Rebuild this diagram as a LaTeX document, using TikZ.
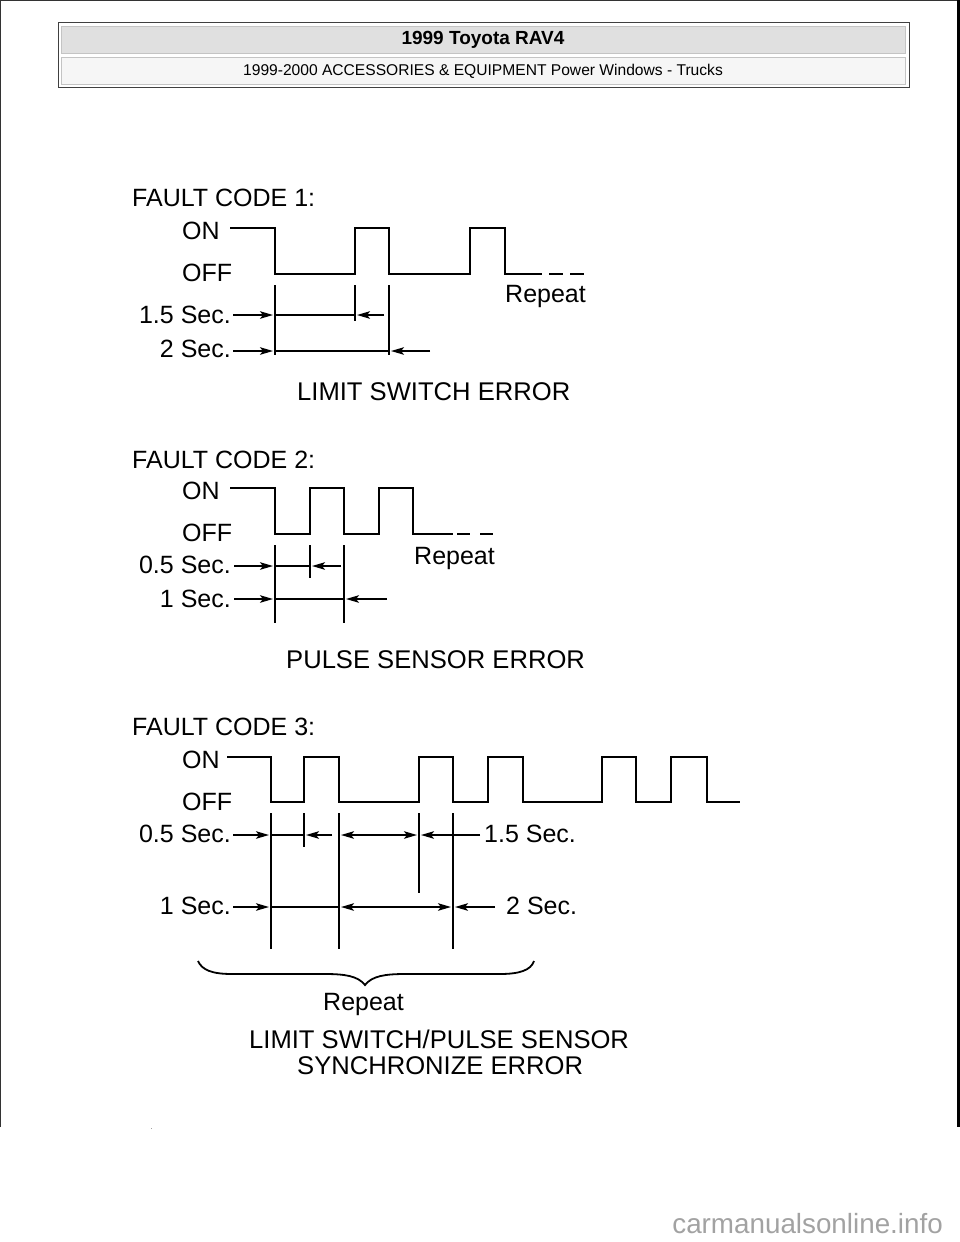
\documentclass[tikz,border=0pt]{standalone}
\usepackage{fontspec}
\setmainfont{Liberation Sans}
\usetikzlibrary{arrows.meta}
\definecolor{barhead}{HTML}{E0E0E0}
\definecolor{barsub}{HTML}{F6F6F6}
\definecolor{barline}{HTML}{C4C4C4}
\definecolor{markgray}{HTML}{A2A2A2}
\tikzset{
  lbl/.style={inner sep=0pt, text=black, font=\fontsize{25}{28}\selectfont},
  lblleft/.style={lbl, anchor=base west},
  lblright/.style={lbl, anchor=base east},
  lblname/.style={lblleft, font=\fontsize{25.6}{28}\selectfont},
  wave/.style={line width=2.4pt, line join=miter},
  wavedash/.style={line width=1.3pt},
  tick/.style={line width=1.7pt},
  span/.style={line width=1.7pt},
  lead/.style={line width=1.8pt, -{Stealth[length=13pt,width=7.5pt,inset=3pt]}},
  both/.style={line width=1.8pt, {Stealth[length=13pt,width=7.5pt,inset=3pt]}-{Stealth[length=13pt,width=7.5pt,inset=3pt]}}
}
\begin{document}
\begin{tikzpicture}[x=1pt,y=-1pt]
          \useasboundingbox (0,0) rectangle (960,1242);
          % Draw page frame
          \draw[line width=1.5pt, black!80] (0.7,1127) -- (0.7,0.7) -- (960,0.7);
          \fill[black] (957,0) rectangle (960,1127);
          \fill[markgray] (150.5,1127.5) rectangle (151.5,1128.5);
          % Draw header
          \draw[line width=1pt, black!75, fill=white] (58,22) rectangle (909,87);
          \draw[line width=1pt, barline, fill=barhead] (61,26) rectangle (905,53);
          \draw[line width=1pt, barline, fill=barsub] (61,57) rectangle (905,84);
          \node[inner sep=0pt, font=\fontsize{19}{21}\selectfont\bfseries] (title) at (483,40) {1999 Toyota RAV4};
          \node[inner sep=0pt, font=\fontsize{15.6}{18}\selectfont] (subtitle) at (483,71) {1999-2000 ACCESSORIES \& EQUIPMENT Power Windows - Trucks};
          % Draw fault code 1
          \node[lblleft] (faultA) at (132,206) {FAULT CODE 1:};
          \node[lblleft] (onA) at (182,239) {ON};
          \node[lblleft] (offA) at (182,281) {OFF};
          \draw[wave] (230,228) -- (275,228) -- (275,274) -- (355,274) -- (355,228) -- (389,228) -- (389,274) -- (470,274) -- (470,228) -- (505,228) -- (505,274) -- (528,274);
          \draw[wavedash, dash pattern=on 14pt off 7pt] (528,274) -- (586,274);
          \node[lblleft] (repeatA) at (505,302) {Repeat};
          \draw[tick] (275,285) -- (275,355);
          \draw[tick] (355,285) -- (355,321);
          \draw[tick] (389,285) -- (389,355);
          \node[lblright] (halfA) at (231,323) {1.5 Sec.};
          \draw[lead] (233,315) -- (273,315);
          \draw[span] (275,315) -- (355,315);
          \draw[lead] (384,315) -- (357,315);
          \node[lblright] (fullA) at (231,357) {2 Sec.};
          \draw[lead] (233,351) -- (273,351);
          \draw[span] (275,351) -- (389,351);
          \draw[lead] (430,351) -- (391,351);
          \node[lblname] (nameA) at (297,400) {LIMIT SWITCH ERROR};
          % Draw fault code 2
          \node[lblleft] (faultB) at (132,468) {FAULT CODE 2:};
          \node[lblleft] (onB) at (182,499) {ON};
          \node[lblleft] (offB) at (182,541) {OFF};
          \draw[wave] (230,488) -- (275,488) -- (275,534) -- (310,534) -- (310,488) -- (344,488) -- (344,534) -- (379,534) -- (379,488) -- (413,488) -- (413,534) -- (440,534);
          \draw[wavedash, dash pattern=on 13pt off 4pt on 13pt off 10pt] (440,534) -- (493,534);
          \node[lblleft] (repeatB) at (414,564) {Repeat};
          \draw[tick] (275,545) -- (275,623);
          \draw[tick] (310,545) -- (310,578);
          \draw[tick] (344,545) -- (344,623);
          \node[lblright] (halfB) at (231,573) {0.5 Sec.};
          \draw[lead] (234,566) -- (273,566);
          \draw[span] (275,566) -- (310,566);
          \draw[lead] (341,566) -- (312,566);
          \node[lblright] (fullB) at (231,607) {1 Sec.};
          \draw[lead] (234,599) -- (273,599);
          \draw[span] (275,599) -- (344,599);
          \draw[lead] (387,599) -- (346,599);
          \node[lblname] (nameB) at (286,668) {PULSE SENSOR ERROR};
          % Draw fault code 3
          \node[lblleft] (faultC) at (132,735) {FAULT CODE 3:};
          \node[lblleft] (onC) at (182,768) {ON};
          \node[lblleft] (offC) at (182,810) {OFF};
          \draw[wave] (227,757) -- (271,757) -- (271,802) -- (304,802) -- (304,757) -- (339,757) -- (339,802) -- (419,802) -- (419,757) -- (453,757) -- (453,802) -- (488,802) -- (488,757) -- (523,757) -- (523,802) -- (602,802) -- (602,757) -- (636,757) -- (636,802) -- (671,802) -- (671,757) -- (707,757) -- (707,802) -- (740,802);
          \draw[tick] (271,813) -- (271,949);
          \draw[tick] (304,813) -- (304,847);
          \draw[tick] (339,813) -- (339,949);
          \draw[tick] (419,813) -- (419,893);
          \draw[tick] (453,813) -- (453,949);
          \node[lblright] (halfC) at (231,842) {0.5 Sec.};
          \draw[lead] (233,835) -- (269,835);
          \draw[span] (271,835) -- (304,835);
          \draw[lead] (332,835) -- (306,835);
          \draw[both] (341,835) -- (417,835);
          \node[lblleft] (longC) at (484,842) {1.5 Sec.};
          \draw[lead] (480,835) -- (421,835);
          \node[lblright] (fullC) at (231,914) {1 Sec.};
          \draw[lead] (233,907) -- (269,907);
          \draw[span] (271,907) -- (339,907);
          \draw[both] (341,907) -- (451,907);
          \node[lblleft] (twoC) at (506,914) {2 Sec.};
          \draw[lead] (495,907) -- (455,907);
          % Draw brace
          \draw[line width=1.8pt] (198,961) .. controls (202,970) and (212,974) .. (232,974) -- (325,974) .. controls (345,974) and (358,976) .. (365,985) .. controls (372,976) and (385,974) .. (405,974) -- (500,974) .. controls (520,974) and (531,970) .. (534,961);
          \node[lblleft] (repeatC) at (323,1010) {Repeat};
          \node[lblname] (nameC) at (249,1048) {LIMIT SWITCH/PULSE SENSOR};
          \node[lblname] (nameD) at (297,1074) {SYNCHRONIZE ERROR};
          % Draw site mark
          \node[inner sep=0pt, anchor=base east, text=markgray, font=\fontsize{27.8}{30}\selectfont] (site) at (943,1233) {carmanualsonline.info};
        \end{tikzpicture}
\end{document}
